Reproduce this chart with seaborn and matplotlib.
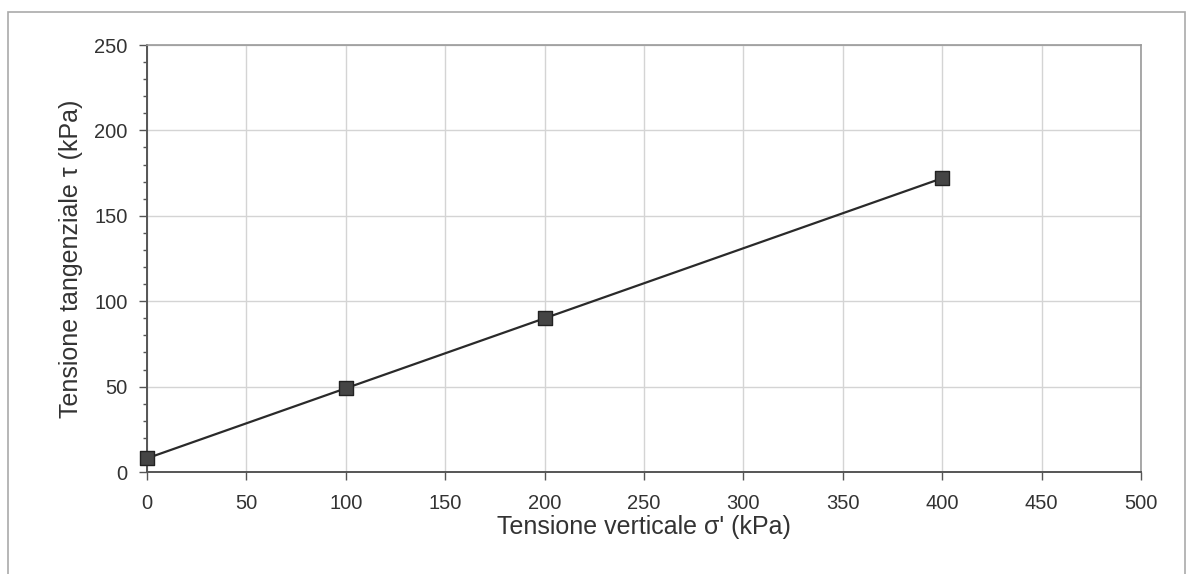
import numpy as np
import pandas as pd
import matplotlib
matplotlib.use("Agg")
import matplotlib.pyplot as plt
import seaborn as sns
from matplotlib.patches import Rectangle
from matplotlib.ticker import MultipleLocator

sigma = [0, 100, 200, 400]
tau = [8, 49, 90, 172]
x_ticks = [0, 50, 100, 150, 200, 250, 300, 350, 400, 450, 500]
y_ticks = [0, 50, 100, 150, 200, 250]

sns.set_theme(style="white")
plt.rcParams['font.family'] = ['Liberation Sans', 'DejaVu Sans']

df = pd.DataFrame({"sigma": sigma, "tau": tau})

fig = plt.figure(figsize=(11.93, 5.74), dpi=100)
ax = fig.add_axes([0.1232, 0.1777, 0.8332, 0.7439])

sns.regplot(data=df, x="sigma", y="tau", ci=None, ax=ax, truncate=True, marker="s",
            scatter_kws=dict(s=100, color="#454545", edgecolors="#222222", linewidths=1, alpha=1,
                             zorder=3, clip_on=False),
            line_kws=dict(color="#2a2a2a", lw=1.6, zorder=2))

ax.set_xlim(0, 500)
ax.set_ylim(0, 250)
ax.set_xticks(x_ticks)
ax.set_yticks(y_ticks)
ax.yaxis.set_minor_locator(MultipleLocator(10))
ax.grid(True, which="major", color="#d4d4d4", lw=1)
ax.set_axisbelow(True)
ax.tick_params(axis="both", which="major", direction="out", length=6, width=1, color="#555555",
               labelsize=14.5, labelcolor="#333333", left=True, bottom=True)
ax.tick_params(axis="x", which="major", pad=10)
ax.tick_params(axis="y", which="major", pad=8)
ax.tick_params(axis="y", which="minor", direction="out", length=3, width=1, color="#555555", left=True)
for s in ["left", "bottom"]:
    ax.spines[s].set_color("#555555")
    ax.spines[s].set_linewidth(1.4)
for s in ["top", "right"]:
    ax.spines[s].set_color("#999999")
    ax.spines[s].set_linewidth(1.2)

ax.set_xlabel("Tensione verticale σ' (kPa)", fontsize=18, color="#333333", labelpad=1)
ax.set_ylabel("Tensione tangenziale τ (kPa)", fontsize=18, color="#333333", labelpad=8)

fig.patches.append(Rectangle((8/1193, -0.02), (1185-8)/1193, (574-12)/574 + 0.02,
                             transform=fig.transFigure, fill=False, edgecolor="#aaaaaa", lw=1.2))

fig.savefig("out.png", dpi=100)
